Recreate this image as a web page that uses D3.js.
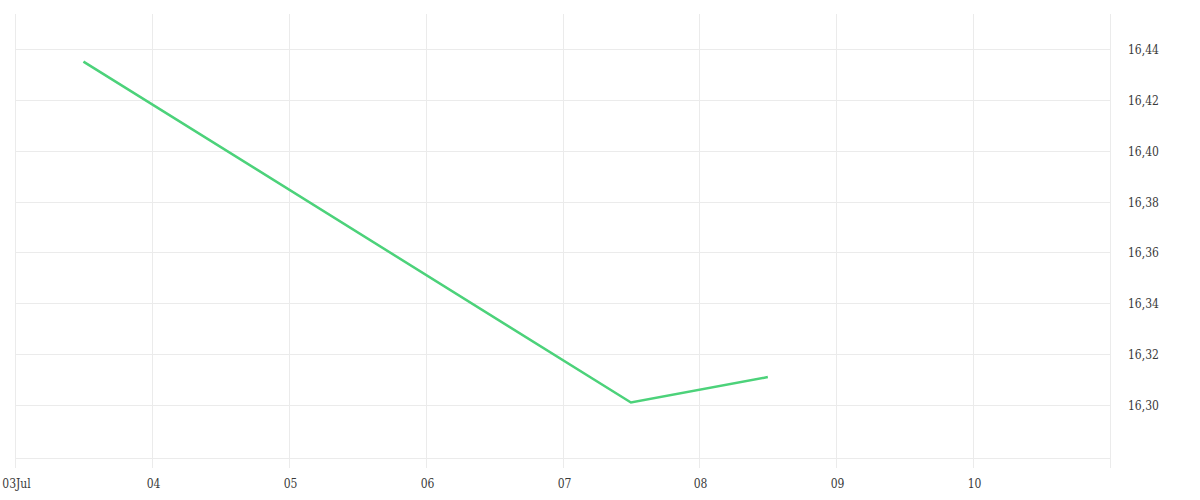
<!DOCTYPE html>
<html><head><meta charset="utf-8">
<script src="https://cdn.jsdelivr.net/npm/d3@7"></script>
<style>body{margin:0;background:#fff}svg{display:block}text{font-family:"DejaVu Serif Condensed","DejaVu Serif",serif;font-stretch:condensed;font-size:12px;fill:#3a3a3a}</style>
</head><body><svg id="c" width="1200" height="500"></svg>
<script>
const dates = ["2024-07-03T12:00","2024-07-07T12:00","2024-07-08T12:00"];
const values = [16.435, 16.301, 16.311];
const yTicks = [16.30,16.32,16.34,16.36,16.38,16.40,16.42,16.44];
const xTickDates = ["2024-07-03","2024-07-04","2024-07-05","2024-07-06","2024-07-07","2024-07-08","2024-07-09","2024-07-10","2024-07-11"];
const xTickLabels = ["03Jul","04","05","06","07","08","09","10",""];

const parse = d3.timeParse("%Y-%m-%dT%H:%M");
const parseD = d3.timeParse("%Y-%m-%d");
const svg = d3.select("#c");
const L=15, R=1110, T=14, B=458;
const x = d3.scaleTime().domain([parseD("2024-07-03"), parseD("2024-07-11")]).range([L,R]);
const y = d3.scaleLinear().domain([16.2792,16.4537]).range([B,T]);
const g = svg.append("g");
// vertical grid
xTickDates.forEach((d,i)=>{
  const xv = Math.round(x(parseD(d)))+0.5;
  g.append("line").attr("x1",xv).attr("x2",xv).attr("y1",T).attr("y2",468).attr("stroke","#ebebeb");
  if(xTickLabels[i]) g.append("text").attr("x",xv+1).attr("y",488).attr("text-anchor","middle").text(xTickLabels[i]);
});
// horizontal grid
yTicks.concat([y.invert(B)]).forEach((t,i)=>{
  const yv = Math.round(y(t))+0.5;
  g.append("line").attr("x1",L).attr("x2",R).attr("y1",yv).attr("y2",yv).attr("stroke","#ebebeb");
  if(i<yTicks.length) g.append("text").attr("x",1128).attr("y",yv+4).text(d3.format(".2f")(t).replace(".",","));
});
const line = d3.line().x((d,i)=>x(parse(dates[i]))).y(d=>y(d));
svg.append("path").datum(values).attr("d",line).attr("fill","none").attr("stroke","#4cd27a").attr("stroke-width",2.5);
</script></body></html>
